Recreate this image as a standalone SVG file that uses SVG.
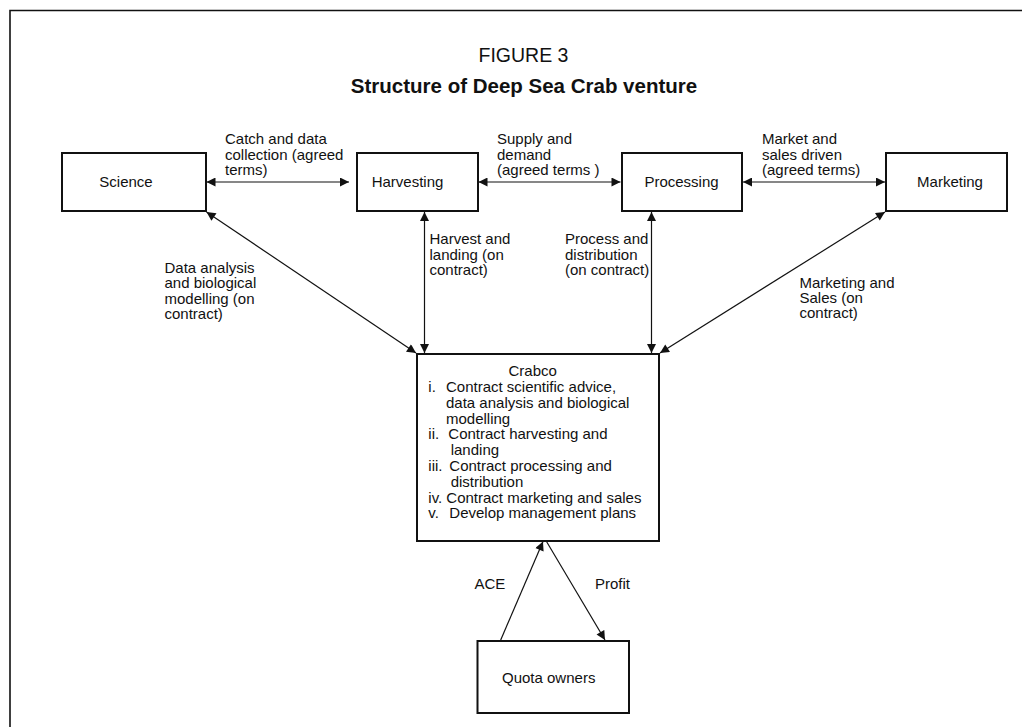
<svg xmlns="http://www.w3.org/2000/svg" width="1022" height="727" viewBox="0 0 1022 727">
<style>
text{font-family:"Liberation Sans",Arial,sans-serif;font-size:15px;fill:#111}
.box{fill:#fff;stroke:#111;stroke-width:2}
.c{stroke:#111;stroke-width:1.2;fill:none}
.m{text-anchor:middle}
</style>
<defs>
<marker id="ah" viewBox="0 0 10 10" refX="10" refY="5" markerUnits="userSpaceOnUse" markerWidth="10" markerHeight="9" orient="auto-start-reverse">
<path d="M0,0 L10,5 L0,10 z" fill="#111"/>
</marker>
</defs>
<rect x="0" y="0" width="1022" height="727" fill="#fff"/>
<path d="M10,727 V10.5 H1022" fill="none" stroke="#111" stroke-width="1.6"/>
<text x="523.5" y="62" class="m" style="font-size:19.5px">FIGURE 3</text>
<text x="524" y="93" class="m" style="font-size:20.5px;font-weight:bold">Structure of Deep Sea Crab venture</text>

<g id="connectors">
<line class="c" x1="206.5" y1="182" x2="349" y2="182" marker-start="url(#ah)" marker-end="url(#ah)"/>
<line class="c" x1="478.5" y1="182" x2="620.5" y2="182" marker-start="url(#ah)" marker-end="url(#ah)"/>
<line class="c" x1="743" y1="182" x2="885" y2="182" marker-start="url(#ah)" marker-end="url(#ah)"/>
<line class="c" x1="206.5" y1="212" x2="416" y2="353" marker-start="url(#ah)" marker-end="url(#ah)"/>
<line class="c" x1="424.5" y1="212" x2="424.5" y2="353" marker-start="url(#ah)" marker-end="url(#ah)"/>
<line class="c" x1="651.5" y1="212" x2="651.5" y2="353" marker-start="url(#ah)" marker-end="url(#ah)"/>
<line class="c" x1="885" y1="212" x2="660" y2="353" marker-start="url(#ah)" marker-end="url(#ah)"/>
<line class="c" x1="500.7" y1="640" x2="543" y2="541.5" marker-end="url(#ah)"/>
<line class="c" x1="546.5" y1="541.5" x2="605" y2="640" marker-end="url(#ah)"/>
<text x="225" y="144">Catch and data</text>
<text x="225" y="159.5">collection (agreed</text>
<text x="225" y="175">terms)</text>
<text x="497" y="144">Supply and</text>
<text x="497" y="159.5">demand</text>
<text x="497" y="175">(agreed terms )</text>
<text x="762" y="144">Market and</text>
<text x="762" y="159.5">sales driven</text>
<text x="762" y="175">(agreed terms)</text>
<text x="164.5" y="272.5">Data analysis</text>
<text x="164.5" y="288">and biological</text>
<text x="164.5" y="303.5">modelling (on</text>
<text x="164.5" y="319">contract)</text>
<text x="429.5" y="244">Harvest and</text>
<text x="429.5" y="259.5">landing (on</text>
<text x="429.5" y="275">contract)</text>
<text x="565" y="244">Process and</text>
<text x="565" y="259.5">distribution</text>
<text x="565" y="275">(on contract)</text>
<text x="799.5" y="287.5">Marketing and</text>
<text x="799.5" y="303">Sales (on</text>
<text x="799.5" y="318">contract)</text>
<text x="474.5" y="588.5">ACE</text>
<text x="595" y="588.5">Profit</text>
</g>

<g id="science">
<rect class="box" x="62" y="153" width="144" height="58"/>
<text x="126" y="187" class="m">Science</text>
</g>
<g id="harvesting">
<rect class="box" x="357" y="153" width="121" height="58"/>
<text x="407.5" y="187" class="m">Harvesting</text>
</g>
<g id="processing">
<rect class="box" x="622" y="153" width="120" height="58"/>
<text x="681.5" y="187" class="m">Processing</text>
</g>
<g id="marketing">
<rect class="box" x="886" y="153" width="121" height="58"/>
<text x="950" y="187" class="m">Marketing</text>
</g>
<g id="crabco">
<rect class="box" x="417" y="354" width="242" height="187"/>
<text x="532.7" y="376" class="m">Crabco</text>
<text x="428.3" y="392">i.</text>
<text x="446" y="392">Contract scientific advice,</text>
<text x="446" y="407.8">data analysis and biological</text>
<text x="446" y="423.6">modelling</text>
<text x="428.3" y="439.4">ii.</text>
<text x="448.3" y="439.4">Contract harvesting and</text>
<text x="450.7" y="455.2">landing</text>
<text x="428.3" y="471">iii.</text>
<text x="449.3" y="471">Contract processing and</text>
<text x="450.7" y="486.8">distribution</text>
<text x="428.3" y="502.6">iv. Contract marketing and sales</text>
<text x="428.3" y="518.4">v.</text>
<text x="449.3" y="518.4">Develop management plans</text>
</g>
<g id="quota-owners">
<rect class="box" x="477.5" y="641" width="151.5" height="72"/>
<text x="548.7" y="683" class="m">Quota owners</text>
</g>
</svg>
